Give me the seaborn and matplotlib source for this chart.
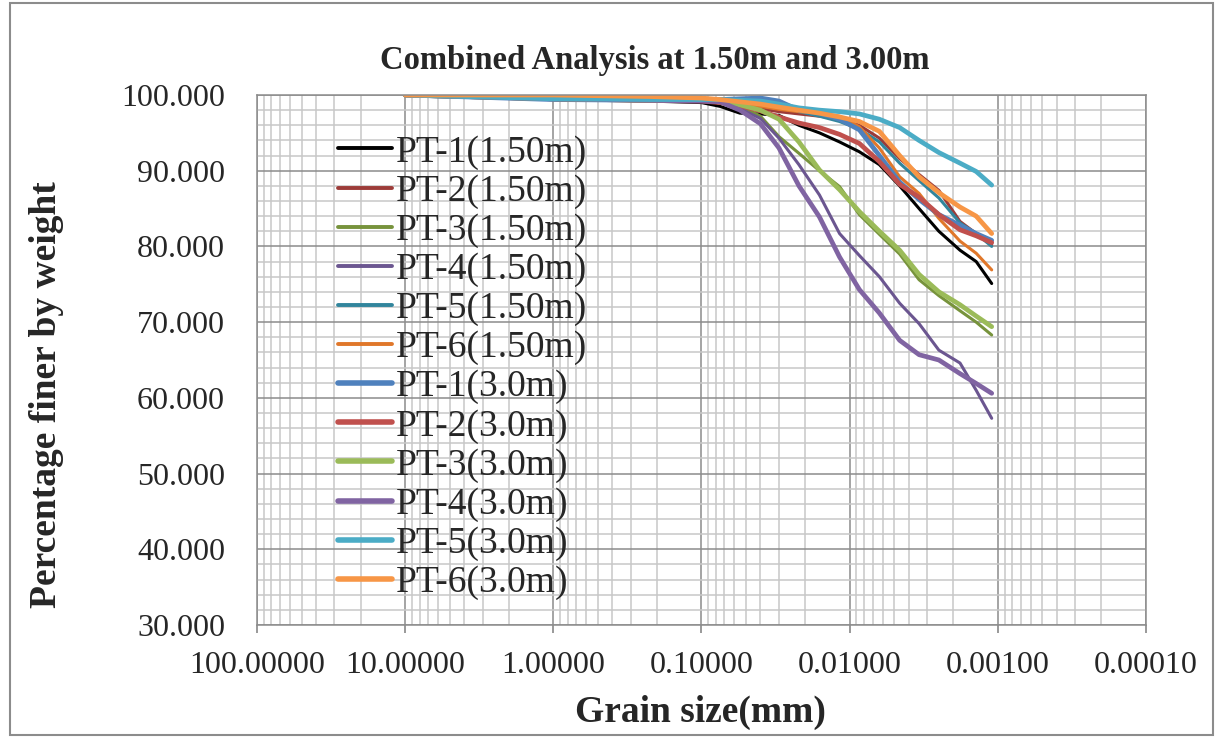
import matplotlib
matplotlib.use("Agg")
import matplotlib.pyplot as plt
import matplotlib.ticker as mticker
from matplotlib.patches import Rectangle
import seaborn as sns
import pandas as pd

# ---------------- data ----------------
grain_size = [10, 1.0, 0.225, 0.1, 0.075, 0.055, 0.040, 0.030, 0.022, 0.016,
              0.0117, 0.0086, 0.0063, 0.0046, 0.0034, 0.0025, 0.0018, 0.0014, 0.0011]

series_names = ["PT-1(1.50m)", "PT-2(1.50m)", "PT-3(1.50m)", "PT-4(1.50m)",
                "PT-5(1.50m)", "PT-6(1.50m)", "PT-1(3.0m)", "PT-2(3.0m)",
                "PT-3(3.0m)", "PT-4(3.0m)", "PT-5(3.0m)", "PT-6(3.0m)"]

pt1_150 = [100, 99.5, 99.2, 99.0, 98.5, 97.6, 97.5, 97.3, 96.0, 95.0, 93.8, 92.5, 90.8, 88.0, 85.0, 82.0, 79.5, 78.0, 75.1]
pt2_150 = [100, 99.5, 99.3, 99.2, 99.0, 98.6, 98.2, 97.8, 97.5, 97.2, 96.9, 96.0, 94.3, 91.6, 89.5, 87.4, 83.3, 81.7, 80.2]
pt3_150 = [100, 99.5, 99.3, 99.2, 99.0, 98.6, 97.2, 94.5, 92.3, 90.0, 87.9, 84.2, 81.6, 79.0, 75.6, 73.5, 71.5, 70.0, 68.3]
pt4_150 = [100, 99.5, 99.3, 99.2, 99.0, 98.2, 96.9, 94.3, 90.8, 86.8, 81.7, 78.8, 76.0, 72.5, 69.8, 66.3, 64.6, 61.0, 57.3]
pt5_150 = [100, 99.5, 99.3, 99.2, 99.1, 99.0, 98.8, 98.4, 97.8, 97.2, 96.5, 95.5, 93.8, 91.0, 88.7, 86.4, 83.1, 81.7, 80.0]
pt6_150 = [100, 99.5, 99.3, 99.2, 99.1, 98.8, 98.5, 98.1, 97.8, 97.6, 97.2, 95.8, 93.0, 89.2, 87.0, 83.7, 80.7, 79.1, 76.9]
pt1_300 = [100, 99.4, 99.3, 99.4, 99.4, 99.5, 99.6, 99.2, 98.0, 97.6, 96.8, 95.4, 92.0, 88.5, 86.2, 84.2, 82.8, 81.7, 80.8]
pt2_300 = [100, 99.5, 99.3, 99.2, 99.0, 98.6, 97.9, 97.1, 96.3, 95.7, 94.8, 93.6, 91.2, 88.2, 86.5, 84.2, 82.2, 81.4, 80.5]
pt3_300 = [100, 99.5, 99.3, 99.3, 99.3, 98.7, 98.0, 96.8, 93.8, 90.1, 87.5, 84.6, 82.0, 79.5, 76.3, 74.0, 72.3, 70.8, 69.4]
pt4_300 = [100, 99.5, 99.3, 99.2, 99.1, 98.0, 96.2, 93.0, 88.0, 83.9, 78.6, 74.3, 71.2, 67.6, 65.7, 65.0, 63.2, 61.9, 60.6]
pt5_300 = [100, 99.5, 99.4, 99.4, 99.4, 99.3, 99.2, 98.8, 98.3, 98.0, 97.8, 97.5, 96.8, 95.7, 94.0, 92.4, 91.0, 89.9, 88.1]
pt6_300 = [100, 100, 99.8, 99.6, 99.4, 99.1, 98.8, 98.4, 98.0, 97.6, 97.1, 96.5, 95.2, 92.0, 89.2, 87.1, 85.2, 84.0, 81.7]

series_values = [pt1_150, pt2_150, pt3_150, pt4_150, pt5_150, pt6_150,
                 pt1_300, pt2_300, pt3_300, pt4_300, pt5_300, pt6_300]

x_tick_values = [100, 10, 1, 0.1, 0.01, 0.001, 0.0001]
x_tick_labels = ["100.00000", "10.00000", "1.00000", "0.10000", "0.01000", "0.00100", "0.00010"]
y_tick_values = [30, 40, 50, 60, 70, 80, 90, 100]

# ---------------- styles ----------------
colors = ["#000000", "#9C3B38", "#77933C", "#6B5690", "#31859C", "#E0772A",
          "#4F81BD", "#C0504D", "#9BBB59", "#8064A2", "#4BACC6", "#F79646"]
widths = [2.2, 2.2, 2.2, 2.2, 2.2, 2.2, 3.4, 3.4, 3.4, 3.4, 3.4, 3.4]

rows = []
for name, vals in zip(series_names, series_values):
    for d, v in zip(grain_size, vals):
        rows.append({"series": name, "size": d, "pct": v})
df = pd.DataFrame(rows)

sns.set_theme(style="white")
plt.rcParams["font.family"] = ["Liberation Serif", "DejaVu Serif"]

fig = plt.figure(figsize=(12.21, 7.38), dpi=100)
ax = fig.add_axes([257 / 1221, 1 - 625 / 738, (1146 - 257) / 1221, (625 - 95) / 738])

ax.set_xscale("log")
for name, c, w in zip(series_names, colors, widths):
    sub = df[df["series"] == name]
    sns.lineplot(data=sub, x="size", y="pct", ax=ax, color=c, linewidth=w,
                 label=name, sort=True, solid_capstyle="round", solid_joinstyle="round")

ax.set_xlim(100, 0.0001)
ax.set_ylim(30, 100)

ax.set_xticks(x_tick_values)
ax.set_xticklabels(x_tick_labels)
ax.xaxis.set_minor_locator(mticker.LogLocator(base=10, subs=range(2, 10), numticks=20))
ax.xaxis.set_minor_formatter(mticker.NullFormatter())
ax.set_yticks(y_tick_values)
ax.yaxis.set_major_formatter(mticker.FormatStrFormatter("%.3f"))
ax.yaxis.set_minor_locator(mticker.MultipleLocator(2))

ax.grid(which="major", color="#8c8c8c", linewidth=1.1)
ax.grid(which="minor", color="#c8c8c8", linewidth=1.1)
ax.set_axisbelow(True)
for s in ax.spines.values():
    s.set_color("#8c8c8c")
    s.set_linewidth(1.1)

ax.tick_params(axis="x", which="major", direction="out", length=6, color="#8c8c8c",
               labelsize=23, pad=13, bottom=True)
ax.tick_params(axis="y", which="major", direction="out", length=0, labelsize=23, pad=23, left=True)
ax.tick_params(which="minor", length=0)

ax.set_xlabel("Grain size(mm)", fontsize=27, fontweight="bold")
ax.set_ylabel("Percentage finer by weight", fontsize=27, fontweight="bold")
ax.xaxis.label.set_va("center")
ax.yaxis.label.set_va("center")
ax.xaxis.set_label_coords((700 - 257) / (1146 - 257), -(712 - 625) / 530)
ax.yaxis.set_label_coords(-(257 - 47) / 889, (625 - 395) / 530)

fig.text(655 / 1221, 1 - 60 / 738, "Combined Analysis at 1.50m and 3.00m",
         fontsize=23.5, fontweight="bold", ha="center", va="center")

leg = ax.legend(loc="upper left", bbox_to_anchor=((338 - 257) / 889, (625 - 135) / 530),
                frameon=False, fontsize=27, handlelength=1.45, handletextpad=0.08,
                labelspacing=0.12, borderpad=0, borderaxespad=0)
for h, w in zip(leg.get_lines(), widths):
    h.set_linewidth(w + 0.6)

fig.patches.append(Rectangle((10 / 1221, 3 / 738), 1203 / 1221, 732 / 738,
                             transform=fig.transFigure, fill=False,
                             edgecolor="#8c8c8c", linewidth=1.5))

fig.savefig("out.png", dpi=100)
